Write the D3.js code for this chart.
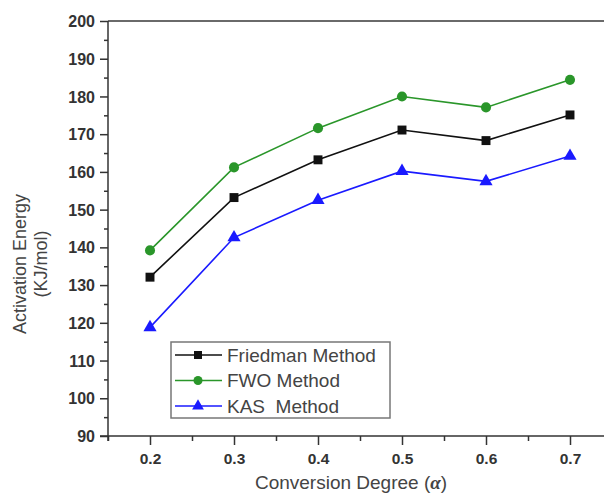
<!DOCTYPE html>
<html>
<head>
<meta charset="utf-8">
<script src="https://cdn.jsdelivr.net/npm/d3@7"></script>
<style>
  html, body { margin: 0; padding: 0; background: #fff; }
  svg { display: block; }
</style>
</head>
<body>
<svg id="chart" width="604" height="495"></svg>
<script>
const alphas = [0.2, 0.3, 0.4, 0.5, 0.6, 0.7];
const friedman = [132.1, 153.2, 163.2, 171.1, 168.3, 175.1];
const fwo = [139.2, 161.2, 171.6, 180.0, 177.1, 184.4];
const kas = [118.8, 142.6, 152.5, 160.2, 157.5, 164.2];
const seriesNames = ["Friedman Method", "FWO Method", "KAS  Method"];
const xTicks = [0.2, 0.3, 0.4, 0.5, 0.6, 0.7];
const yTicks = [90, 100, 110, 120, 130, 140, 150, 160, 170, 180, 190, 200];

const svg = d3.select("#chart");
const plotLeft = 108, plotTop = 21, plotBottom = 436;
const x = d3.scaleLinear().domain([0.15, 0.75]).range([plotLeft, plotLeft + 504]);
const y = d3.scaleLinear().domain([90, 200]).range([plotBottom, plotTop]);

const series = [
  { name: seriesNames[0], values: friedman, color: "#111111", shape: d3.symbolSquare, size: 80 },
  { name: seriesNames[1], values: fwo, color: "#2a962a", shape: d3.symbolCircle, size: 80 },
  { name: seriesNames[2], values: kas, color: "#1a1aff", shape: d3.symbolTriangle, size: 75 }
];

// top frame line
svg.append("line").attr("x1", plotLeft).attr("x2", 620).attr("y1", plotTop).attr("y2", plotTop)
  .attr("stroke", "#6a6a6a").attr("stroke-width", 2);

// minor ticks
const xMinor = d3.range(0.15, 0.751, 0.1).map(v => +v.toFixed(2));
const yMinor = d3.range(95, 200, 10);
svg.append("g").attr("transform", `translate(0,${plotBottom})`)
  .call(d3.axisBottom(x).tickValues(xMinor).tickSize(5).tickFormat(""))
  .call(g => g.select(".domain").remove())
  .selectAll("line").attr("stroke", "#333").attr("stroke-width", 1.5);
svg.append("g").attr("transform", `translate(${plotLeft},0)`)
  .call(d3.axisLeft(y).tickValues(yMinor).tickSize(4).tickFormat(""))
  .call(g => g.select(".domain").remove())
  .selectAll("line").attr("stroke", "#333").attr("stroke-width", 1.5);

// major axes
const xAxis = svg.append("g").attr("transform", `translate(0,${plotBottom})`)
  .call(d3.axisBottom(x).tickValues(xTicks).tickSize(9).tickSizeOuter(0).tickFormat(d3.format(".1f")));
xAxis.select(".domain").attr("d", `M${plotLeft - 8},0H620`).attr("stroke", "#333").attr("stroke-width", 1.5);
xAxis.selectAll("line").attr("stroke", "#333").attr("stroke-width", 1.5);
xAxis.selectAll("text").attr("dy", null).attr("y", 28)
  .attr("font-family", "Liberation Sans, Arial, sans-serif").attr("font-size", 15.5)
  .attr("font-weight", "bold").attr("fill", "#333");

const yAxis = svg.append("g").attr("transform", `translate(${plotLeft},0)`)
  .call(d3.axisLeft(y).tickValues(yTicks).tickSize(8).tickSizeOuter(0));
yAxis.select(".domain").attr("d", `M0,${plotTop}V${plotBottom + 5}`).attr("stroke", "#333").attr("stroke-width", 1.5);
yAxis.selectAll("line").attr("stroke", "#333").attr("stroke-width", 1.5);
yAxis.selectAll("text").attr("x", -13).attr("dy", "0.35em")
  .attr("font-family", "Liberation Sans, Arial, sans-serif").attr("font-size", 16)
  .attr("font-weight", "bold").attr("fill", "#333");

// lines & markers
const line = d3.line().x((d, i) => x(alphas[i])).y(d => y(d));
series.forEach(s => {
  svg.append("path").datum(s.values).attr("d", line)
    .attr("fill", "none").attr("stroke", s.color).attr("stroke-width", 1.6);
  svg.append("g").selectAll("path").data(s.values).join("path")
    .attr("transform", (d, i) => `translate(${x(alphas[i])},${y(d)})`)
    .attr("d", d3.symbol().type(s.shape).size(s.size))
    .attr("fill", s.color);
});

// legend
const lg = svg.append("g");
lg.append("rect").attr("x", 171).attr("y", 342).attr("width", 219).attr("height", 76)
  .attr("fill", "#fff").attr("stroke", "#777").attr("stroke-width", 1.5);
series.forEach((s, i) => {
  const cy = 355 + i * 25.5;
  lg.append("line").attr("x1", 175).attr("x2", 222).attr("y1", cy).attr("y2", cy)
    .attr("stroke", s.color).attr("stroke-width", 1.6);
  lg.append("path").attr("transform", `translate(198,${cy})`)
    .attr("d", d3.symbol().type(s.shape).size(s.size * 0.8)).attr("fill", s.color);
  lg.append("text").attr("x", 227).attr("y", cy).attr("dy", "0.36em")
    .attr("font-family", "Liberation Sans, Arial, sans-serif").attr("font-size", 19)
    .attr("fill", "#444").attr("xml:space", "preserve").style("white-space", "pre")
    .text(s.name);
});

// axis titles
const xt = svg.append("text").attr("x", 351).attr("y", 482).attr("dy", "0.35em")
  .attr("text-anchor", "middle").attr("font-family", "Liberation Sans, Arial, sans-serif")
  .attr("font-size", 19).attr("fill", "#444");
xt.append("tspan").text("Conversion Degree (");
xt.append("tspan").attr("font-style", "italic").attr("font-family", "Liberation Serif, serif").attr("font-weight", "bold").text("α");
xt.append("tspan").text(")");

const yt = svg.append("g").attr("transform", "translate(20,264) rotate(-90)");
yt.append("text").attr("text-anchor", "middle").attr("dy", "0.35em")
  .attr("font-family", "Liberation Sans, Arial, sans-serif").attr("font-size", 18)
  .attr("fill", "#444").text("Activation Energy");
yt.append("text").attr("text-anchor", "middle").attr("y", 21).attr("dy", "0.35em")
  .attr("font-family", "Liberation Sans, Arial, sans-serif").attr("font-size", 18)
  .attr("fill", "#444").text("(KJ/mol)");
</script>
</body>
</html>
